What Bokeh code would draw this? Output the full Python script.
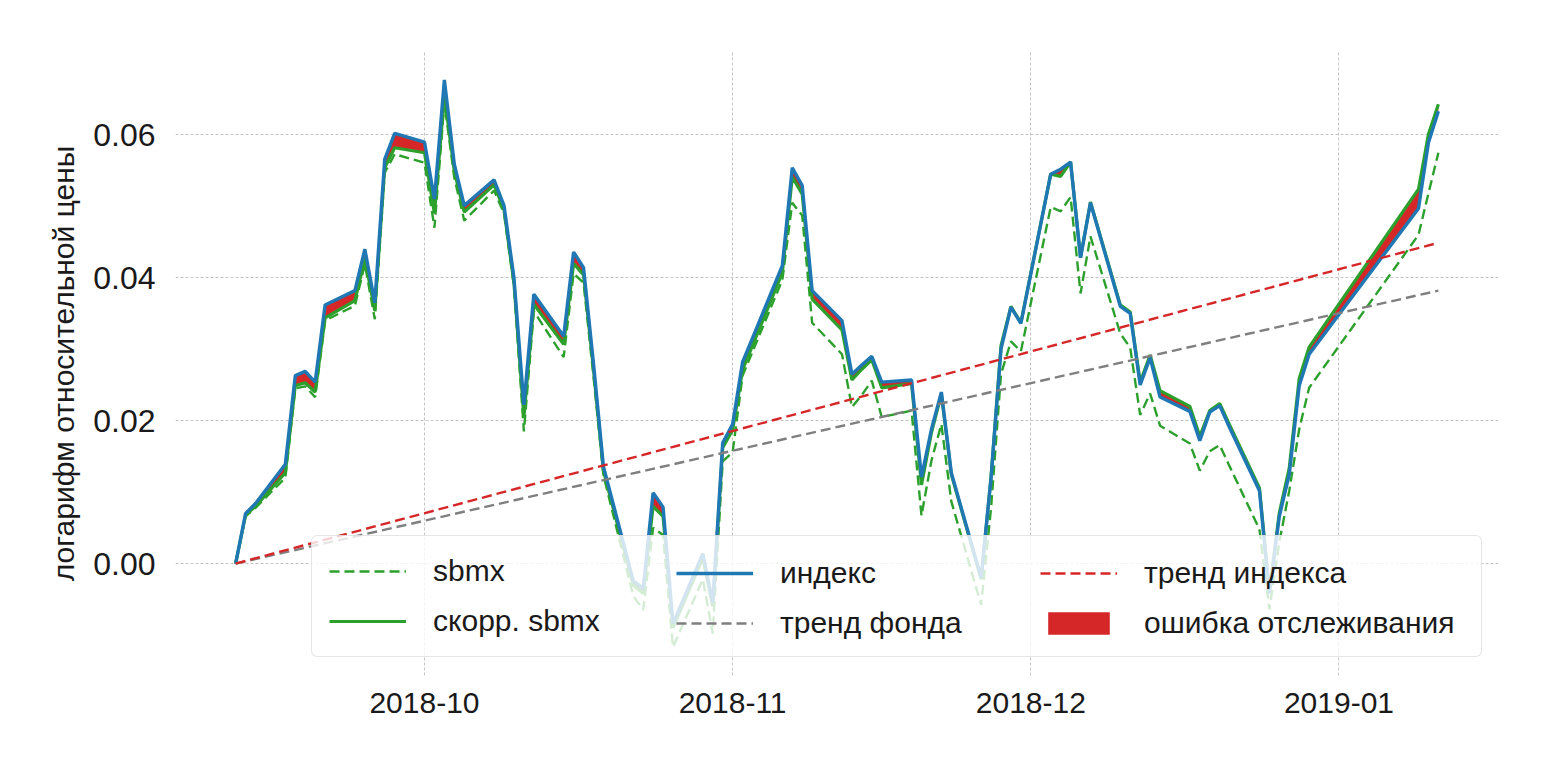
import pandas as pd
from bokeh.plotting import figure
from bokeh.models import (ColumnDataSource, Range1d, FixedTicker, DatetimeTickFormatter,
                          PrintfTickFormatter, Legend, LegendItem)
from bokeh.embed import file_html
from bokeh.resources import INLINE

# ---------------- data ----------------
dates = [
    "2018-09-12", "2018-09-13", "2018-09-14", "2018-09-17", "2018-09-18", "2018-09-19", "2018-09-20",
    "2018-09-21", "2018-09-24", "2018-09-25", "2018-09-26", "2018-09-27", "2018-09-28",
    "2018-10-01", "2018-10-02", "2018-10-03", "2018-10-04", "2018-10-05", "2018-10-08", "2018-10-09",
    "2018-10-10", "2018-10-11", "2018-10-12", "2018-10-15", "2018-10-16", "2018-10-17", "2018-10-18",
    "2018-10-19", "2018-10-22", "2018-10-23", "2018-10-24", "2018-10-25", "2018-10-26", "2018-10-29",
    "2018-10-30", "2018-10-31",
    "2018-11-01", "2018-11-02", "2018-11-06", "2018-11-07", "2018-11-08", "2018-11-09", "2018-11-12",
    "2018-11-13", "2018-11-14", "2018-11-15", "2018-11-16", "2018-11-19", "2018-11-20", "2018-11-21",
    "2018-11-22", "2018-11-23", "2018-11-26", "2018-11-27", "2018-11-28", "2018-11-29", "2018-11-30",
    "2018-12-03", "2018-12-04", "2018-12-05", "2018-12-06", "2018-12-07", "2018-12-10", "2018-12-11",
    "2018-12-12", "2018-12-13", "2018-12-14", "2018-12-17", "2018-12-18", "2018-12-19", "2018-12-20",
    "2018-12-21", "2018-12-24", "2018-12-25", "2018-12-26", "2018-12-27", "2018-12-28", "2018-12-29",
    "2019-01-09", "2019-01-10", "2019-01-11",
]

index_vals = [
    0.0, 0.0070, 0.0084, 0.0139, 0.0263, 0.0269, 0.0254, 0.0362, 0.0382, 0.0440, 0.0365, 0.0566, 0.0602,
    0.0590, 0.0510, 0.0677, 0.0559, 0.0501, 0.0537, 0.0501, 0.0400, 0.0222, 0.0377, 0.0318, 0.0436,
    0.0414, 0.0280, 0.0136, -0.0024, -0.0035, 0.0099, 0.0079, -0.0084, 0.0014, -0.0055, 0.0169,
    0.0195, 0.0282, 0.0417, 0.0554, 0.0529, 0.0382, 0.0340, 0.0265, 0.0278, 0.0290, 0.0254, 0.0257,
    0.0121, 0.0188, 0.0240, 0.0127, -0.0020, 0.0120, 0.0300, 0.0359, 0.0336,
    0.0545, 0.0552, 0.0562, 0.0428, 0.0505, 0.0360, 0.0350, 0.0250, 0.0288, 0.0233, 0.0213, 0.0172,
    0.0212, 0.0221, 0.0190, 0.0102, -0.0042, 0.0066, 0.0125, 0.0249, 0.0293,
    0.0497, 0.0589, 0.0633,
]

scorr_vals = [
    0.0, 0.0068, 0.0080, 0.0127, 0.0249, 0.0253, 0.0240, 0.0344, 0.0368, 0.0427, 0.0354, 0.0554, 0.0582,
    0.0575, 0.0490, 0.0655, 0.0549, 0.0492, 0.0530, 0.0495, 0.0393, 0.0205, 0.0363, 0.0307, 0.0420,
    0.0404, 0.0272, 0.0130, -0.0030, -0.0042, 0.0080, 0.0066, -0.0090, 0.0008, -0.0060, 0.0162,
    0.0187, 0.0271, 0.0407, 0.0541, 0.0517, 0.0370, 0.0327, 0.0257, 0.0272, 0.0285, 0.0246, 0.0252,
    0.0110, 0.0183, 0.0237, 0.0125, -0.0022, 0.0122, 0.0305, 0.0360, 0.0337,
    0.0545, 0.0542, 0.0562, 0.0428, 0.0506, 0.0362, 0.0352, 0.0254, 0.0292, 0.0242, 0.0220, 0.0178,
    0.0214, 0.0224, 0.0194, 0.0106, -0.0039, 0.0071, 0.0134, 0.0259, 0.0303,
    0.0524, 0.0601, 0.0643,
]

sbmx_vals = [
    0.0, 0.0066, 0.0078, 0.0120, 0.0245, 0.0248, 0.0233, 0.0340, 0.0361, 0.0419, 0.0342, 0.0547, 0.0573,
    0.0561, 0.0470, 0.0645, 0.0540, 0.0480, 0.0522, 0.0490, 0.0388, 0.0185, 0.0353, 0.0289, 0.0406,
    0.0393, 0.0262, 0.0124, -0.0045, -0.0065, 0.0050, 0.0040, -0.0117, -0.0022, -0.0098, 0.0143,
    0.0156, 0.0263, 0.0397, 0.0505, 0.0487, 0.0337, 0.0293, 0.0219, 0.0236, 0.0256, 0.0205, 0.0214,
    0.0067, 0.0144, 0.0195, 0.0087, -0.0058, 0.0078, 0.0265, 0.0311, 0.0297,
    0.0499, 0.0493, 0.0513, 0.0378, 0.0458, 0.0322, 0.0302, 0.0208, 0.0238, 0.0193, 0.0168, 0.0130,
    0.0157, 0.0166, 0.0136, 0.0048, -0.0064, 0.0030, 0.0102, 0.0188, 0.0246,
    0.0460, 0.0518, 0.0575,
]

# linear trends (start at 0 on first date, value at last date)
trend_index_end = 0.0449
trend_fund_end = 0.0382

x_tick_dates = ["2018-10-01", "2018-11-01", "2018-12-01", "2019-01-01"]
y_ticks = [0.00, 0.02, 0.04, 0.06]

labels = ["sbmx", "скорр. sbmx", "индекс", "тренд фонда", "тренд индекса", "ошибка отслеживания"]
y_label = "логарифм относительной цены"

# ---------------- styling ----------------
BLUE = "#1f77b4"
GREEN = "#2ca02c"
RED = "#d62728"
GRAY = "#7f7f7f"
FONT = "Liberation Sans"
TXT = "#1a1a1a"

dt = pd.to_datetime(dates)
src = ColumnDataSource(dict(x=dt.values, index=index_vals, scorr=scorr_vals, sbmx=sbmx_vals))
trend_src = ColumnDataSource(dict(x=[dt[0], dt[-1]],
                                  ti=[0.0, trend_index_end],
                                  tf=[0.0, trend_fund_end]))


def ms(ts):
    return pd.Timestamp(ts).value / 1e6


x0, x1 = ms(dt[0]), ms(dt[-1])
xpad = 0.05 * (x1 - x0)
allv = index_vals + scorr_vals + sbmx_vals
y0, y1 = min(allv), max(allv)
ypad = 0.05 * (y1 - y0)

p = figure(width=1534, height=760, x_axis_type="datetime",
           x_range=Range1d(x0 - xpad, x1 + xpad), y_range=Range1d(y0 - ypad, y1 + ypad),
           output_backend="svg", toolbar_location=None,
           min_border_left=175, min_border_right=36, min_border_top=51, min_border_bottom=85)
p.outline_line_color = None
p.background_fill_color = "white"
p.border_fill_color = "white"

r_fill = p.varea(x="x", y1="index", y2="scorr", source=src, fill_color=RED, fill_alpha=1.0)
r_sbmx = p.line("x", "sbmx", source=src, line_color=GREEN, line_width=2.4, line_dash="10 5")
r_scorr = p.line("x", "scorr", source=src, line_color=GREEN, line_width=3.2)
r_idx = p.line("x", "index", source=src, line_color=BLUE, line_width=3.4)
r_tf = p.line("x", "tf", source=trend_src, line_color=GRAY, line_width=2.4, line_dash="10 5")
r_ti = p.line("x", "ti", source=trend_src, line_color=RED, line_width=2.4, line_dash="10 5")

# axes
p.xaxis.ticker = FixedTicker(ticks=[ms(d) for d in x_tick_dates])
p.xaxis.formatter = DatetimeTickFormatter(months="%Y-%m", days="%Y-%m", years="%Y-%m")
p.yaxis.ticker = FixedTicker(ticks=y_ticks)
p.yaxis.formatter = PrintfTickFormatter(format="%.2f")
for ax in (p.xaxis, p.yaxis):
    ax.axis_line_color = None
    ax.major_tick_line_color = None
    ax.minor_tick_line_color = None
    ax.major_tick_out = 0
    ax.major_tick_in = 0
    ax.minor_tick_out = 0
    ax.major_label_text_font = FONT
    ax.major_label_text_color = TXT
p.xaxis.major_label_text_font_size = "30px"
p.yaxis.major_label_text_font_size = "32px"
p.xaxis.major_label_standoff = 17
p.yaxis.major_label_standoff = 20
p.yaxis.axis_label = y_label
p.yaxis.axis_label_text_font = FONT
p.yaxis.axis_label_text_font_size = "30px"
p.yaxis.axis_label_text_font_style = "normal"
p.yaxis.axis_label_text_color = TXT
p.yaxis.axis_label_standoff = 10

for g in (p.xgrid, p.ygrid):
    g.grid_line_color = "#c4c4c4"
    g.grid_line_dash = "3 2"
    g.grid_line_width = 1
p.xgrid.ticker = p.xaxis.ticker
p.ygrid.ticker = p.yaxis.ticker

common = dict(label_text_font=FONT, label_text_font_size="30px", label_text_color=TXT,
              glyph_width=77, glyph_height=28, label_height=36, label_standoff=27,
              spacing=14, margin=0, orientation="vertical")

leg1 = Legend(items=[LegendItem(label=labels[0], renderers=[r_sbmx]),
                     LegendItem(label=labels[1], renderers=[r_scorr])],
              location=(136, 18), padding=17, label_width=1031,
              background_fill_color="white", background_fill_alpha=0.8,
              border_line_color="#cccccc", border_line_width=1.5, **common)
try:
    leg1.border_radius = 6
except Exception:
    pass
leg2 = Legend(items=[LegendItem(label=labels[2], renderers=[r_idx]),
                     LegendItem(label=labels[3], renderers=[r_tf])],
              location=(501, 34), padding=0, background_fill_alpha=0,
              border_line_color=None, **common)
leg3 = Legend(items=[LegendItem(label=labels[4], renderers=[r_ti]),
                     LegendItem(label=labels[5], renderers=[r_fill])],
              location=(865, 34), padding=0, background_fill_alpha=0,
              border_line_color=None, **common)
for lg in (leg1, leg2, leg3):
    p.add_layout(lg, "center")

open("out.html", "w").write(file_html(p, INLINE))
